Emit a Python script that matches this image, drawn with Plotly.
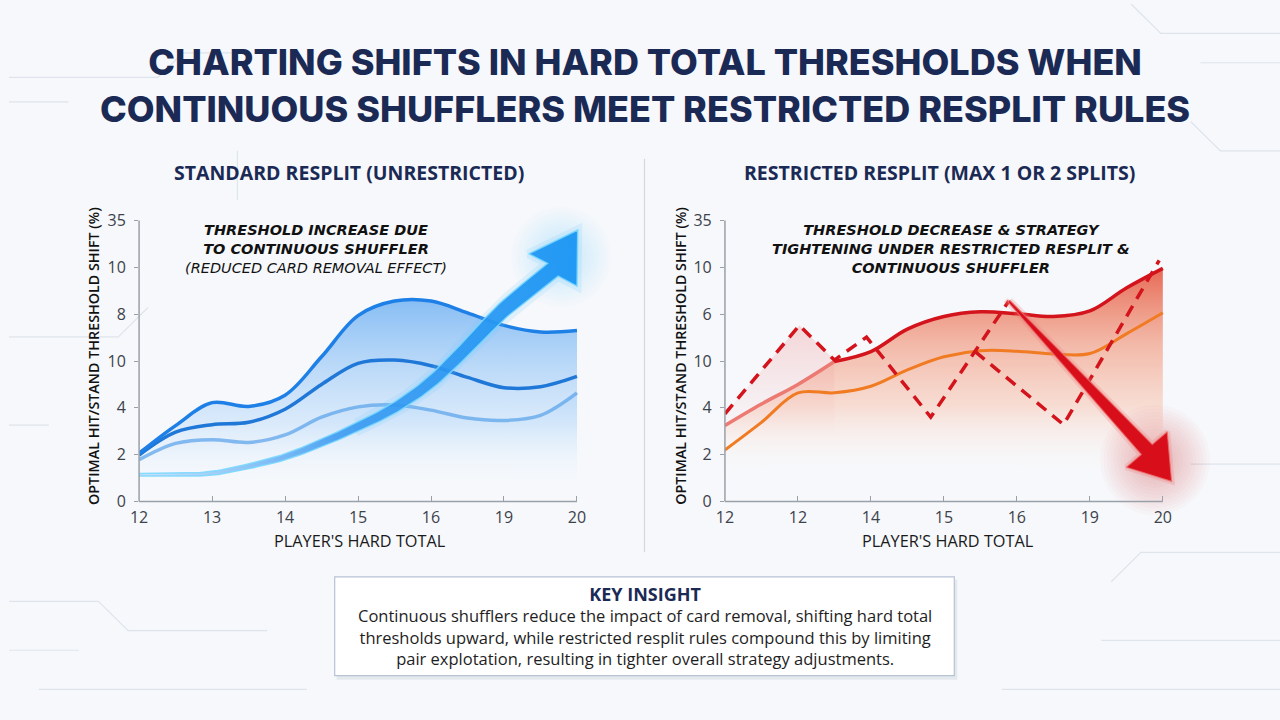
import numpy as np
import plotly.graph_objects as go

# ---------------- data ----------------
X_POS = [0, 0.5, 1, 1.5, 2, 2.5, 3, 3.5, 4, 4.5, 5, 5.5, 6]
X_TICK_POS = [0, 1, 2, 3, 4, 5, 6]
LEFT_XTICKS = ["12", "13", "14", "15", "16", "19", "20"]
RIGHT_XTICKS = ["12", "12", "14", "15", "16", "19", "20"]
Y_TICK_POS = [0, 1, 2, 3, 4, 5, 6]
LEFT_YTICKS = ["0", "2", "4", "10", "8", "10", "35"]
RIGHT_YTICKS = ["0", "2", "4", "10", "6", "10", "35"]

STD_HIGH = [1.03, 1.62, 2.11, 2.03, 2.27, 3.09, 3.97, 4.28, 4.28, 4.03, 3.76, 3.62, 3.65]
STD_MID = [0.99, 1.48, 1.64, 1.69, 1.97, 2.50, 2.95, 3.02, 2.90, 2.65, 2.43, 2.45, 2.67]
STD_LOW = [0.89, 1.24, 1.32, 1.26, 1.42, 1.80, 2.02, 2.06, 1.95, 1.78, 1.73, 1.84, 2.32]

RES_HIGH = [1.62, 2.08, 2.50, 2.99, 3.20, 3.68, 3.95, 4.05, 4.01, 3.95, 4.07, 4.56, 4.98]
RES_MID = [1.10, 1.69, 2.32, 2.32, 2.46, 2.81, 3.09, 3.22, 3.21, 3.15, 3.16, 3.58, 4.03]
RES_DASH_X = [0, 1.02, 1.50, 1.94, 2.82, 3.89, None, 3.43, 4.64, 5.95]
RES_DASH_Y = [1.87, 3.76, 3.02, 3.51, 1.80, 4.28, None, 3.20, 1.64, 5.15]

# trend arrows (centre line + head)
UP_ARROW_X = [0, 0.5, 1, 1.5, 2, 2.5, 3, 3.5, 4, 4.5, 5, 5.67]
UP_ARROW_Y = [0.57, 0.575, 0.60, 0.75, 0.95, 1.25, 1.60, 2.00, 2.55, 3.30, 4.10, 4.95]
UP_HEAD = [(5.34, 5.29), (6.01, 5.80), (6.00, 4.60)]
DOWN_ARROW_X = [3.89, 5.78]
DOWN_ARROW_Y = [4.28, 1.11]
DOWN_HEAD = [(6.06, 1.49), (6.12, 0.43), (5.50, 0.73)]

TITLE = ("CHARTING SHIFTS IN HARD TOTAL THRESHOLDS WHEN<br>"
         "CONTINUOUS SHUFFLERS MEET RESTRICTED RESPLIT RULES")
SUB_LEFT = "STANDARD RESPLIT (UNRESTRICTED)"
SUB_RIGHT = "RESTRICTED RESPLIT (MAX 1 OR 2 SPLITS)"
Y_TITLE = "OPTIMAL HIT/STAND THRESHOLD SHIFT (%)"
X_TITLE = "PLAYER'S HARD TOTAL"
NOTE_LEFT = ("<b><i>THRESHOLD INCREASE DUE<br>TO CONTINUOUS SHUFFLER</i></b><br>"
             "<i>(REDUCED CARD REMOVAL EFFECT)</i>")
NOTE_RIGHT = ("<b><i>THRESHOLD DECREASE &amp; STRATEGY<br>TIGHTENING UNDER RESTRICTED RESPLIT &amp;"
              "<br>CONTINUOUS SHUFFLER</i></b>")
KEY_TITLE = "KEY INSIGHT"
KEY_TEXT = ["Continuous shufflers reduce the impact of card removal, shifting hard total",
            "thresholds upward, while restricted resplit rules compound this by limiting",
            "pair explotation, resulting in tighter overall strategy adjustments."]

# ---------------- layout geometry ----------------
W, H = 1280, 720
SX, SY = 73.5, 47.8          # px per data unit
X_RANGE = [0, 6.4]
Y_RANGE = [0, 6.15]
LEFT_X0, RIGHT_X0, Y0 = 131, 721, 508


def px_dom(x0, span, scale, total):
    return [x0 / total, (x0 + span * scale) / total]


xdom_l = px_dom(LEFT_X0, X_RANGE[1] - X_RANGE[0], SX, W)
xdom_r = px_dom(RIGHT_X0, X_RANGE[1] - X_RANGE[0], SX, W)
ydom = [1 - Y0 / H, 1 - (Y0 - (Y_RANGE[1] - Y_RANGE[0]) * SY) / H]


def catmull(u, v, n=12):
    P = np.column_stack([u, v])
    P = np.vstack([P[0] * 2 - P[1], P, P[-1] * 2 - P[-2]])
    out = []
    for i in range(1, len(P) - 2):
        p0, p1, p2, p3 = P[i - 1], P[i], P[i + 1], P[i + 2]
        for t in np.linspace(0, 1, n, endpoint=False):
            t2, t3 = t * t, t * t * t
            out.append(0.5 * ((2 * p1) + (-p0 + p2) * t + (2 * p0 - 5 * p1 + 4 * p2 - p3) * t2
                              + (-p0 + 3 * p1 - 3 * p2 + p3) * t3))
    out.append(P[-2])
    return np.array(out)


def arrow_poly(cx, cy, head, w0, w1, smooth=True, wpow=1.0):
    u = np.array(cx) * SX
    v = np.array(cy) * SY
    if smooth:
        pts = catmull(u, v)
    else:
        pts = np.column_stack([np.linspace(u[0], u[-1], 30), np.linspace(v[0], v[-1], 30)])
    du = np.gradient(pts[:, 0])
    dv = np.gradient(pts[:, 1])
    nrm = np.hypot(du, dv)
    nx, ny = -dv / nrm, du / nrm
    t = np.linspace(0, 1, len(pts)) ** wpow
    w = (w0 + (w1 - w0) * t) / 2
    left = np.column_stack([pts[:, 0] + nx * w, pts[:, 1] + ny * w])
    right = np.column_stack([pts[:, 0] - nx * w, pts[:, 1] - ny * w])
    hx = [p[0] for p in head]
    hy = [p[1] for p in head]
    xs = list(left[:, 0] / SX) + hx + list(right[::-1, 0] / SX) + [left[0, 0] / SX]
    ys = list(left[:, 1] / SY) + hy + list(right[::-1, 1] / SY) + [left[0, 1] / SY]
    return xs, ys


def head_centre(head):
    return [sum(p[0] for p in head) / 3], [sum(p[1] for p in head) / 3]


def add_glow(fig, head, rgb, xa, ya, smax=110, smin=30, layers=12, alpha=0.022):
    cx, cy = head_centre(head)
    for s in np.linspace(smax, smin, layers):
        fig.add_trace(go.Scatter(x=cx, y=cy, mode="markers", cliponaxis=False,
                                 marker=dict(size=float(s), color=f"rgba({rgb},{alpha})",
                                             line=dict(width=0)),
                                 hoverinfo="skip", showlegend=False, xaxis=xa, yaxis=ya))


fig = go.Figure()

# ---------------- left panel ----------------
fig.add_trace(go.Scatter(
    x=X_POS, y=STD_HIGH, mode="lines", line=dict(width=0, shape="spline", smoothing=1.0),
    fill="tozeroy",
    fillgradient=dict(type="vertical", start=0.3, stop=4.3,
                      colorscale=[[0, "rgba(255,255,255,0)"], [0.35, "rgba(170,210,250,0.35)"],
                                  [1, "rgba(70,155,240,0.62)"]]),
    hoverinfo="skip", showlegend=False, xaxis="x", yaxis="y"))
fig.add_trace(go.Scatter(
    x=X_POS, y=STD_LOW, mode="lines", line=dict(width=0, shape="spline", smoothing=1.0),
    fill="tozeroy",
    fillgradient=dict(type="vertical", start=0.4, stop=2.3,
                      colorscale=[[0, "rgba(255,255,255,0)"], [1, "rgba(150,200,248,0.25)"]]),
    hoverinfo="skip", showlegend=False, xaxis="x", yaxis="y"))
for ys, col, wd in [(STD_LOW, "rgba(95,165,235,0.75)", 3.5),
                    (STD_MID, "#1f78d8", 3.5),
                    (STD_HIGH, "#1e80e6", 3.5)]:
    fig.add_trace(go.Scatter(x=X_POS, y=ys, mode="lines",
                             line=dict(color=col, width=wd, shape="spline", smoothing=1.0),
                             hoverinfo="skip", showlegend=False, xaxis="x", yaxis="y"))

# soft glow around the rising arrow
add_glow(fig, UP_HEAD, "120,205,255", "x", "y", smax=100, smin=35, layers=12, alpha=0.025)
gx, gy = arrow_poly(UP_ARROW_X[6:], UP_ARROW_Y[6:], UP_HEAD, 8, 17, smooth=True)
fig.add_trace(go.Scatter(x=gx, y=gy, mode="lines", line=dict(color="rgba(110,200,255,0.16)", width=9),
                         hoverinfo="skip", showlegend=False, xaxis="x", yaxis="y"))
ax, ay = arrow_poly(UP_ARROW_X, UP_ARROW_Y, UP_HEAD, 2.5, 17, smooth=True, wpow=1.4)
fig.add_trace(go.Scatter(
    x=ax, y=ay, mode="lines", fill="toself", line=dict(color="rgba(120,215,255,0.85)", width=1.5),
    fillgradient=dict(type="horizontal", start=0, stop=6,
                      colorscale=[[0, "rgba(120,185,245,0.35)"], [0.45, "rgba(50,150,240,0.85)"],
                                  [1, "#2199f4"]]),
    hoverinfo="skip", showlegend=False, xaxis="x", yaxis="y"))

# ---------------- right panel ----------------
fig.add_trace(go.Scatter(
    x=X_POS, y=RES_HIGH, mode="lines", line=dict(width=0, shape="spline", smoothing=1.0),
    fill="tozeroy",
    fillgradient=dict(type="vertical", start=0.6, stop=5.0,
                      colorscale=[[0, "rgba(255,255,255,0)"], [0.35, "rgba(248,185,160,0.45)"],
                                  [0.65, "rgba(240,140,110,0.6)"], [1, "rgba(228,80,55,0.85)"]]),
    hoverinfo="skip", showlegend=False, xaxis="x2", yaxis="y2"))
fig.add_trace(go.Scatter(
    x=RES_DASH_X[:3], y=RES_DASH_Y[:3], mode="lines", line=dict(width=0),
    fill="tozeroy",
    fillgradient=dict(type="vertical", start=1.5, stop=3.8,
                      colorscale=[[0, "rgba(245,170,170,0)"], [1, "rgba(240,150,150,0.35)"]]),
    hoverinfo="skip", showlegend=False, xaxis="x2", yaxis="y2"))
fig.add_trace(go.Scatter(x=X_POS, y=RES_MID, mode="lines",
                         line=dict(color="#f07b22", width=3, shape="spline", smoothing=1.0),
                         hoverinfo="skip", showlegend=False, xaxis="x2", yaxis="y2"))
fig.add_trace(go.Scatter(x=X_POS[:4], y=RES_HIGH[:4], mode="lines",
                         line=dict(color="#ec7a72", width=3.5, shape="spline", smoothing=1.0),
                         hoverinfo="skip", showlegend=False, xaxis="x2", yaxis="y2"))
fig.add_trace(go.Scatter(x=X_POS[3:], y=RES_HIGH[3:], mode="lines",
                         line=dict(color="#d4141c", width=3.5, shape="spline", smoothing=1.0),
                         hoverinfo="skip", showlegend=False, xaxis="x2", yaxis="y2"))
fig.add_trace(go.Scatter(x=RES_DASH_X, y=RES_DASH_Y, mode="lines", connectgaps=False,
                         line=dict(color="#d4141c", width=3.5, dash="12px,8px"),
                         hoverinfo="skip", showlegend=False, xaxis="x2", yaxis="y2"))

# soft glow near the falling arrow head
add_glow(fig, DOWN_HEAD, "235,70,70", "x2", "y2", smax=110, smin=35, layers=12, alpha=0.028)
bx, by = arrow_poly(DOWN_ARROW_X, DOWN_ARROW_Y, DOWN_HEAD, 2.5, 15, smooth=False)
fig.add_trace(go.Scatter(x=bx, y=by, mode="lines", line=dict(color="rgba(240,120,120,0.25)", width=6),
                         hoverinfo="skip", showlegend=False, xaxis="x2", yaxis="y2"))
fig.add_trace(go.Scatter(x=bx, y=by, mode="lines", fill="toself", fillcolor="#d80f1a",
                         line=dict(color="rgba(235,110,110,0.8)", width=1.2),
                         hoverinfo="skip", showlegend=False, xaxis="x2", yaxis="y2"))

# ---------------- axes ----------------
tickfont = dict(family="Open Sans", size=16, color="#3d424b")
common_x = dict(range=X_RANGE, showgrid=False, zeroline=False, showline=False,
                tickmode="array", tickvals=X_TICK_POS, ticks="inside", ticklen=5,
                tickcolor="#9aa0a8", tickfont=tickfont, fixedrange=True, ticklabelstandoff=5)
common_y = dict(range=Y_RANGE, showgrid=False, zeroline=False, showline=False,
                tickmode="array", tickvals=Y_TICK_POS, ticks="outside", ticklen=4,
                tickcolor="#9aa0a8", tickfont=tickfont, fixedrange=True, ticklabelstandoff=5)

annotations = []
shapes = []


def ann(text, px, py, size, color="#1b2a55", weight=700, family="Open Sans", style="normal",
        angle=0, align="center"):
    annotations.append(dict(text=text, x=px / W, y=1 - py / H, xref="paper", yref="paper",
                            showarrow=False, textangle=angle, align=align,
                            xanchor="center", yanchor="middle",
                            font=dict(size=size, color=color, family=family, weight=weight,
                                      style=style)))


# background circuit decorations (pixel paths, converted to paper)
circ = "rgba(175,188,205,0.32)"
deco_paths = [
    "M0,75 L150,75 L175,50 L240,50", "M0,100 L60,100", "M0,340 L110,340 L140,310",
    "M0,430 L40,430", "M0,610 L90,610 L120,640 L260,640", "M0,660 L70,660",
    "M30,700 L300,700", "M1280,30 L1160,30 L1130,0", "M1280,60 L1200,60",
    "M1280,150 L1220,150 L1190,120", "M1280,470 L1190,470", "M1280,560 L1140,560 L1110,590",
    "M1280,650 L1100,650", "M1000,700 L1280,700", "M230,150 L230,200",
]
for p in deco_paths:
    tokens = p.replace("M", " M ").replace("L", " L ").split()
    out = []
    for t in tokens:
        if t in ("M", "L"):
            out.append(t)
        else:
            a, b = t.split(",")
            out.append(f"{float(a) / W:.5f},{1 - float(b) / H:.5f}")
    path = " ".join(out).replace("M ", "M").replace("L ", "L")
    shapes.append(dict(type="path", path=path, xref="paper", yref="paper", layer="below",
                       line=dict(color=circ, width=1.2)))

# axis lines (paper coordinates derived from geometry)
for x0 in (LEFT_X0, RIGHT_X0):
    shapes.append(dict(type="line", xref="paper", yref="paper",
                       x0=x0 / W, x1=x0 / W, y0=1 - Y0 / H, y1=1 - (Y0 - 6 * SY) / H,
                       line=dict(color="#9aa0a8", width=1.5)))
    shapes.append(dict(type="line", xref="paper", yref="paper",
                       x0=x0 / W, x1=(x0 + 6 * SX) / W, y0=1 - Y0 / H, y1=1 - Y0 / H,
                       line=dict(color="#9aa0a8", width=1.5)))
# divider
shapes.append(dict(type="line", xref="paper", yref="paper", x0=640 / W, x1=640 / W,
                   y0=1 - 158 / H, y1=1 - 560 / H, line=dict(color="#d3d8e0", width=1.2)))
# key insight box (shadow + box)
shapes.append(dict(type="rect", xref="paper", yref="paper", x0=330 / W, x1=955 / W,
                   y0=1 - 690 / H, y1=1 - 588 / H, fillcolor="rgba(150,165,185,0.18)",
                   line=dict(width=0), layer="below"))
shapes.append(dict(type="rect", xref="paper", yref="paper", x0=328 / W, x1=952 / W,
                   y0=1 - 686 / H, y1=1 - 585 / H, fillcolor="#ffffff",
                   line=dict(color="#b7c2d3", width=1.2)))

ann(TITLE, 640, 83, 36, weight=800, family="Inter")
ann(SUB_LEFT, 342, 172, 19.5, weight=700)
ann(SUB_RIGHT, 937, 172, 19.5, weight=700)
ann(Y_TITLE, 85, 359, 14.3, color="#111111", weight=600, angle=-90)
ann(Y_TITLE, 676, 359, 14.3, color="#111111", weight=600, angle=-90)
ann(X_TITLE, 353, 548, 16.3, color="#1a1a1a", weight=500)
ann(X_TITLE, 946, 548, 16.3, color="#1a1a1a", weight=500)
ann(NOTE_LEFT, 309, 250, 14.5, color="#111111", weight=400, family="DejaVu Sans")
ann(NOTE_RIGHT, 949, 250, 14.5, color="#111111", weight=400, family="DejaVu Sans")
key_html = (f"<span style='font-size:18px;font-weight:700;color:#1b2a55'>{KEY_TITLE}</span><br>"
            + "<br>".join(KEY_TEXT))
ann(key_html, 640, 635, 16.5, color="#1e1e1e", weight=400)

fig.update_layout(
    width=W, height=H, margin=dict(l=0, r=0, t=0, b=0),
    paper_bgcolor="#f6f8fb", plot_bgcolor="rgba(0,0,0,0)",
    xaxis=dict(domain=xdom_l, anchor="y", ticktext=LEFT_XTICKS, **common_x),
    yaxis=dict(domain=ydom, anchor="x", ticktext=LEFT_YTICKS, **common_y),
    xaxis2=dict(domain=xdom_r, anchor="y2", ticktext=RIGHT_XTICKS, **common_x),
    yaxis2=dict(domain=ydom, anchor="x2", ticktext=RIGHT_YTICKS, **common_y),
    annotations=annotations, shapes=shapes, showlegend=False,
)

fig.write_html("out.html")
